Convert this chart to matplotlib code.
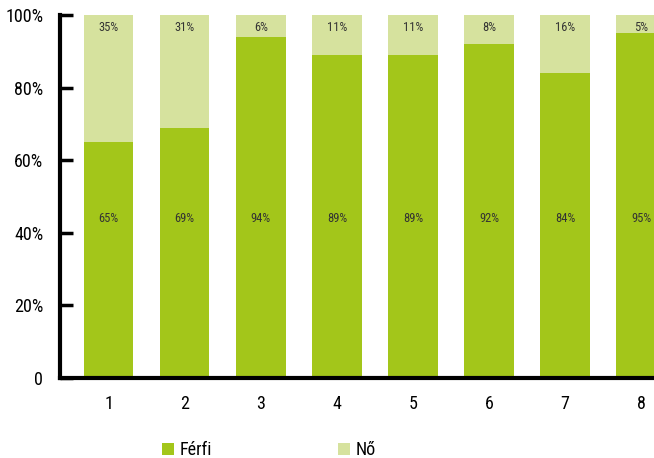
import matplotlib.pyplot as plt
from matplotlib.ticker import FixedLocator

plt.rcParams['font.family'] = ['Roboto Condensed', 'DejaVu Sans']

# adatok
categories = ['1', '2', '3', '4', '5', '6', '7', '8']
ferfi = [65, 69, 94, 89, 89, 92, 84, 95]
no = [35, 31, 6, 11, 11, 8, 16, 5]
yticks = [0, 20, 40, 60, 80, 100]
ylabels = ['0', '20%', '40%', '60%', '80%', '100%']

green = '#a3c61a'
light = '#d6e29e'

fig = plt.figure(figsize=(6.54, 4.58), dpi=100)
ax = fig.add_axes([60 / 654, 1 - 378 / 458, 594 / 654, 363 / 458])

x = list(range(1, len(categories) + 1))
ax.bar(x, ferfi, width=0.65, color=green, label='Férfi')
ax.bar(x, no, width=0.65, bottom=ferfi, color=light, label='Nő')

for xi, f, n in zip(x, ferfi, no):
    ax.text(xi, 44, f'{f}%', ha='center', va='center', fontsize=9, color='#333333')
    ax.text(xi, 96.5, f'{n}%', ha='center', va='center', fontsize=9, color='#333333')

ax.set_xlim(0.36, 8.17)
ax.set_ylim(0, 100)
ax.set_xticks(x)
ax.set_xticklabels(categories)
ax.yaxis.set_major_locator(FixedLocator(yticks))
ax.set_yticklabels(ylabels)
ax.tick_params(axis='y', direction='in', length=9, width=2.5, labelsize=13, pad=12)
ax.tick_params(axis='x', length=0, labelsize=13, pad=12)

for s in ['top', 'right']:
    ax.spines[s].set_visible(False)
for s in ['left', 'bottom']:
    ax.spines[s].set_linewidth(3)
ax.spines['left'].set_bounds(0, 100)

leg = fig.legend(loc='center', bbox_to_anchor=(269 / 654, 1 - 450 / 458), ncol=2,
                 frameon=False, fontsize=13, handlelength=0.65, handleheight=0.65,
                 handletextpad=0.3, columnspacing=7.0)

fig.savefig('out.png', dpi=100)
